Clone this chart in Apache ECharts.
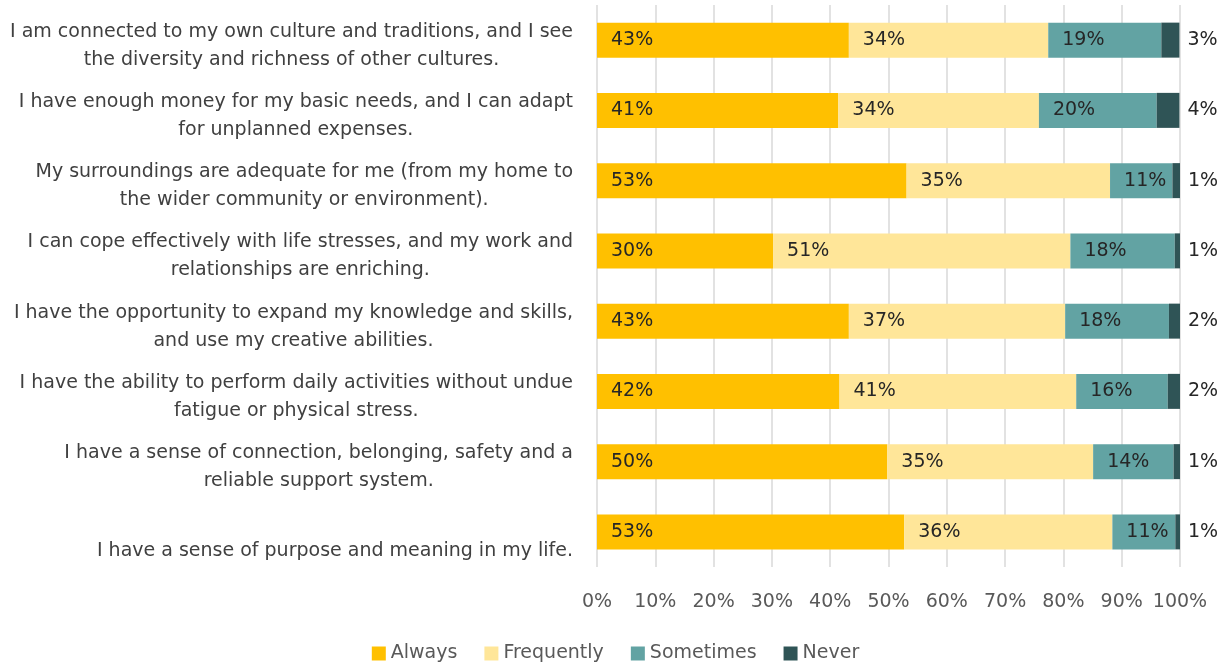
<!DOCTYPE html>
<html>
<head>
<meta charset="utf-8">
<script src="https://cdn.jsdelivr.net/npm/echarts@6/dist/echarts.min.js"></script>
<style>
html,body{margin:0;padding:0;background:#fff;}
#chart{width:1231px;height:666px;}
</style>
</head>
<body>
<div id="chart"></div>
<script>
var categories = [
  "I am connected to my own culture and traditions, and I see\nthe diversity and richness of other cultures.",
  "I have enough money for my basic needs, and I can adapt\nfor unplanned expenses.",
  "My surroundings are adequate for me (from my home to\nthe wider community or environment).",
  "I can cope effectively with life stresses, and my work and\nrelationships are enriching.",
  "I have the opportunity to expand my knowledge and skills,\nand use my creative abilities.",
  "I have the ability to perform daily activities without undue\nfatigue or physical stress.",
  "I have a sense of connection, belonging, safety and a\nreliable support system.",
  "\nI have a sense of purpose and meaning in my life."
];
var seriesNames = ["Always", "Frequently", "Sometimes", "Never"];
var always     = [43.2, 41.4, 53.1, 30.2, 43.2, 41.6, 49.8, 52.7];
var frequently = [34.2, 34.4, 34.9, 51.0, 37.1, 40.6, 35.3, 35.7];
var sometimes  = [19.4, 20.2, 10.7, 17.9, 17.8, 15.7, 13.8, 10.8];
var never      = [3.1, 3.9, 1.3, 0.9, 1.9, 2.1, 1.1, 0.8];
var xTicks = [0, 10, 20, 30, 40, 50, 60, 70, 80, 90, 100];

var colors = ["#FFC000", "#FFE699", "#62A3A3", "#2F5456"];
var FONT = "DejaVu Sans";
var FS = 19;
var values = [always, frequently, sometimes, never];

var chart = echarts.init(document.getElementById('chart'), null, {renderer: 'canvas'});

var series = seriesNames.map(function (name, i) {
  var isNever = i === 3;
  return {
    name: name,
    type: 'bar',
    stack: 'total',
    barWidth: 35,
    data: values[i],
    itemStyle: {color: colors[i]},
    label: {
      show: true,
      position: isNever ? 'right' : 'insideLeft',
      distance: isNever ? 8 : 14,
      fontFamily: FONT,
      fontSize: FS,
      color: '#262626',
      formatter: function (p) { return Math.round(p.value) + '%'; }
    }
  };
});

chart.setOption({
  animation: false,
  backgroundColor: '#ffffff',
  color: colors,
  grid: {left: 597, right: 51, top: 5, bottom: 99, containLabel: false},
  legend: {
    data: seriesNames,
    left: 'center',
    bottom: 0,
    padding: [5, 5, 3, 5],
    itemWidth: 14,
    itemHeight: 14,
    itemGap: 27,
    icon: 'rect',
    textStyle: {fontFamily: FONT, fontSize: FS, color: '#595959'}
  },
  xAxis: {
    type: 'value',
    min: xTicks[0],
    max: xTicks[xTicks.length - 1],
    interval: xTicks[1] - xTicks[0],
    axisLine: {show: false},
    axisTick: {show: false},
    splitLine: {show: true, lineStyle: {color: '#d9d9d9', width: 1.5}},
    axisLabel: {
      fontFamily: FONT, fontSize: FS, color: '#595959', margin: 26,
      formatter: function (v) { return v + '%'; }
    }
  },
  yAxis: {
    type: 'category',
    data: categories,
    inverse: true,
    axisLine: {show: false},
    axisTick: {show: false},
    axisLabel: {
      margin: 24,
      align: 'right',
      padding: [11, 0, 0, 0],
      formatter: function (v) {
        return v.split('\n').map(function (l) { return '{c|' + (l || ' ') + '}'; }).join('\n');
      },
      rich: {
        c: {align: 'center', fontFamily: FONT, fontSize: FS, lineHeight: 28, color: '#404040'}
      }
    }
  },
  series: series
});
</script>
</body>
</html>
